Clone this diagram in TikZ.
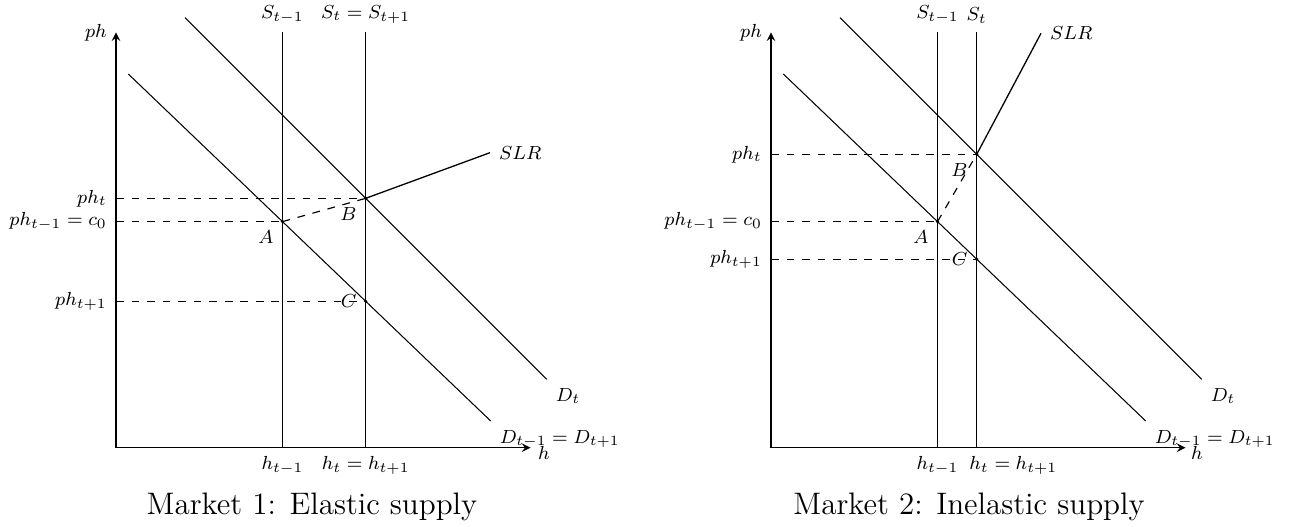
\documentclass[tikz,border=0pt]{standalone}
\newcommand{\lbm}[1]{\scalebox{0.913}{$#1$}}
\begin{document}
\begin{tikzpicture}[x=0.386pt,y=0.386pt,
  lbl/.style={font=\footnotesize},
  axis/.style={line width=0.5pt,-stealth},
  supply/.style={line width=0.6pt},
  demand/.style={line width=0.4pt},
  slr/.style={line width=0.5pt},
  guide/.style={dashed,line width=0.45pt},
  captext/.style={font=\large,anchor=base}]
\useasboundingbox (-116,-79.3) rectangle (1181,447.7);
% ---------------- Market 1 ----------------
\begin{scope}
\coordinate (O1) at (0,0);
\coordinate (Y1) at (0,415.4);
\coordinate (X1) at (414.5,0);
\coordinate (Sa1b) at (166.5,0);
\coordinate (Sa1t) at (166.5,415.4);
\coordinate (Sb1b) at (249.7,0);
\coordinate (Sb1t) at (249.7,415.4);
\coordinate (Dt1s) at (69,430);
\coordinate (Dt1e) at (430.7,68.4);
\coordinate (Dp1s) at (12.3,373.7);
\coordinate (Dp1e) at (374.7,26.7);
\coordinate (A1) at (intersection of Dp1s--Dp1e and Sa1b--Sa1t);
\coordinate (B1) at (intersection of Dt1s--Dt1e and Sb1b--Sb1t);
\coordinate (C1) at (intersection of Dp1s--Dp1e and Sb1b--Sb1t);
\coordinate (E1) at (374,295);
\coordinate (pA1) at (O1 |- A1);
\coordinate (pB1) at (O1 |- B1);
\coordinate (pC1) at (O1 |- C1);
\draw[guide] (pB1) -- (B1);
\draw[guide] (pA1) -- (A1);
\draw[guide] (pC1) -- (C1);
\draw[guide] (A1) -- (B1);
\draw[axis] (O1) -- (Y1);
\draw[axis] (O1) -- (X1);
\draw[supply] (Sa1b) -- (Sa1t);
\draw[supply] (Sb1b) -- (Sb1t);
\draw[demand] (Dt1s) -- (Dt1e);
\draw[demand] (Dp1s) -- (Dp1e);
\draw[slr] (B1) -- (E1);
\fill (A1) circle (1.8);
\fill (B1) circle (1.8);
\fill (C1) circle (1.8);
\node[lbl,left] (ph1) at (Y1) {\lbm{ph}};
\node[lbl] (h1) at (428,-5) {\lbm{h}};
\node[lbl,above] (lSa1) at (Sa1t) {\lbm{S_{t-1}}};
\node[lbl,above] (lSb1) at (Sb1t) {\lbm{S_t = S_{t+1}}};
\node[lbl,below] (lha1) at (Sa1b) {\lbm{h_{t-1}}};
\node[lbl,below] (lhb1) at (Sb1b) {\lbm{h_t = h_{t+1}}};
\node[lbl,left] (lpB1) at (pB1) {\lbm{ph_t}};
\node[lbl,left] (lpA1) at (pA1) {\lbm{ph_{t-1} = c_0}};
\node[lbl,left] (lpC1) at (pC1) {\lbm{ph_{t+1}}};
\node[lbl,below left] (lA1) at (A1) {\lbm{A}};
\node[lbl,below left] (lB1) at (B1) {\lbm{B}};
\node[lbl,left] (lC1) at (C1) {\lbm{C}};
\node[lbl,right] (lE1) at (E1) {\lbm{SLR}};
\node[lbl,below right] (lDt1) at (Dt1e) {\lbm{D_t}};
\node[lbl,below right] (lDp1) at (Dp1e) {\lbm{D_{t-1} = D_{t+1}}};
\node[captext] (cap1) at (196,-67.3) {Market 1: Elastic supply};
\end{scope}
% ---------------- Market 2 ----------------
\begin{scope}[shift={(655,0)}]
\coordinate (O2) at (0,0);
\coordinate (Y2) at (0,415.4);
\coordinate (X2) at (414.5,0);
\coordinate (Sa2b) at (166.5,0);
\coordinate (Sa2t) at (166.5,415.4);
\coordinate (Sb2b) at (205.7,0);
\coordinate (Sb2t) at (205.7,415.4);
\coordinate (Dt2s) at (69,430);
\coordinate (Dt2e) at (430.7,68.4);
\coordinate (Dp2s) at (12.3,373.7);
\coordinate (Dp2e) at (374.7,26.7);
\coordinate (A2) at (intersection of Dp2s--Dp2e and Sa2b--Sa2t);
\coordinate (B2) at (intersection of Dt2s--Dt2e and Sb2b--Sb2t);
\coordinate (C2) at (intersection of Dp2s--Dp2e and Sb2b--Sb2t);
\coordinate (E2) at (270,414.4);
\coordinate (pA2) at (O2 |- A2);
\coordinate (pB2) at (O2 |- B2);
\coordinate (pC2) at (O2 |- C2);
\draw[guide] (pB2) -- (B2);
\draw[guide] (pA2) -- (A2);
\draw[guide] (pC2) -- (C2);
\draw[guide] (A2) -- (B2);
\draw[axis] (O2) -- (Y2);
\draw[axis] (O2) -- (X2);
\draw[supply] (Sa2b) -- (Sa2t);
\draw[supply] (Sb2b) -- (Sb2t);
\draw[demand] (Dt2s) -- (Dt2e);
\draw[demand] (Dp2s) -- (Dp2e);
\draw[slr] (B2) -- (E2);
\fill (A2) circle (1.8);
\fill (B2) circle (1.8);
\fill (C2) circle (1.8);
\node[lbl,left] (ph2) at (Y2) {\lbm{ph}};
\node[lbl] (h2) at (426,-5) {\lbm{h}};
\node[lbl,above] (lSa2) at (Sa2t) {\lbm{S_{t-1}}};
\node[lbl,above] (lSb2) at (Sb2t) {\lbm{S_t}};
\node[lbl,below] (lha2) at (Sa2b) {\lbm{h_{t-1}}};
\node[lbl,below] (lhb2) at (242.3,0) {\lbm{h_t = h_{t+1}}};
\node[lbl,left] (lpB2) at (pB2) {\lbm{ph_t}};
\node[lbl,left] (lpA2) at (pA2) {\lbm{ph_{t-1} = c_0}};
\node[lbl,left] (lpC2) at (pC2) {\lbm{ph_{t+1}}};
\node[lbl,below left] (lA2) at (A2) {\lbm{A}};
\node[lbl,below left] (lB2) at (B2) {\lbm{B}};
\node[lbl,left] (lC2) at (C2) {\lbm{C}};
\node[lbl,right] (lE2) at (E2) {\lbm{SLR}};
\node[lbl,below right] (lDt2) at (Dt2e) {\lbm{D_t}};
\node[lbl,below right] (lDp2) at (Dp2e) {\lbm{D_{t-1} = D_{t+1}}};
\node[captext] (cap2) at (198,-67.3) {Market 2: Inelastic supply};
\end{scope}
\end{tikzpicture}
\end{document}
